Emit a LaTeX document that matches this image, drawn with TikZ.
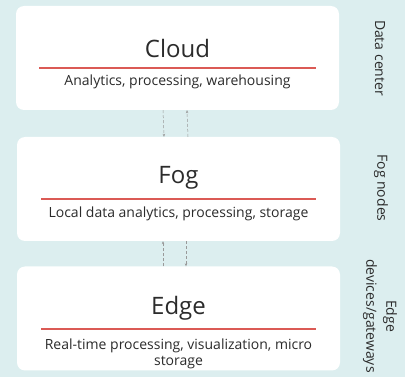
\documentclass[tikz,border=0pt]{standalone}
\usepackage{fontspec}
\setmainfont{Open Sans}
\usetikzlibrary{positioning,arrows.meta}

\definecolor{bgcol}{HTML}{DCEEEF}
\definecolor{rulecol}{HTML}{DB5A55}
\definecolor{txtcol}{HTML}{2B2B2B}

\tikzset{
  layer/.style={rectangle,rounded corners=8pt,fill=white,minimum width=323pt,minimum height=104pt,inner sep=0pt},
  title/.style={text=txtcol,font=\fontsize{24}{28}\selectfont},
  sub/.style={text=txtcol,font=\fontsize{14}{15.5}\selectfont,align=center},
  side/.style={text=txtcol,font=\fontsize{14}{20}\selectfont,rotate=-90,align=center},
  flow/.style={draw=gray!80,densely dashed,line width=0.5pt,-{Stealth[length=3pt,width=2.5pt]}},
  bar/.style={draw=rulecol,line width=1.5pt}
}

\begin{document}
\begin{tikzpicture}[x=1pt,y=-1pt]

		\fill[bgcol] (0,0) rectangle (405,377);
		\useasboundingbox (0,0) rectangle (405,377);

		%layer boxes
		\node[layer] (cloud) at (177.5,58) {};
		\node[layer] (fog) at (178.5,189) {};
		\node[layer] (edge) at (178.5,318.5) {};

		%titles
		\node[title] (t1) at (177.5,49) {Cloud};
		\node[title] (t2) at (178.5,178) {Fog};
		\node[title] (t3) at (178.5,308) {Edge};

		%red rules
		\draw[bar] (39,68) -- (316,68);
		\draw[bar] (41,199) -- (316,199);
		\draw[bar] (41,329) -- (316,329);

		%descriptions
		\node[sub] (d1) at (177.5,82) {Analytics, processing, warehousing};
		\node[sub] (d2) at (178.5,214) {Local data analytics, processing, storage};
		\node[sub] (d3) at (178.5,354) {Real-time processing, visualization, micro\\storage};

		%side labels
		\node[side] (s1) at (380,58) {Data center};
		\node[side] (s2) at (381,188) {Fog nodes};
		\node[side] (s3) at (380,316) {Edge\\devices/gateways};

		%links
		\draw[flow] ([xshift=-14.5pt]cloud.south) -- ([xshift=-14.5pt]fog.north);
		\draw[flow] ([xshift=9.5pt]fog.north) -- ([xshift=9.5pt]cloud.south);
		\draw[flow] ([xshift=-15.5pt]edge.north) -- ([xshift=-15.5pt]fog.south);
		\draw[flow] ([xshift=7.5pt]fog.south) -- ([xshift=7.5pt]edge.north);

\end{tikzpicture}
\end{document}
